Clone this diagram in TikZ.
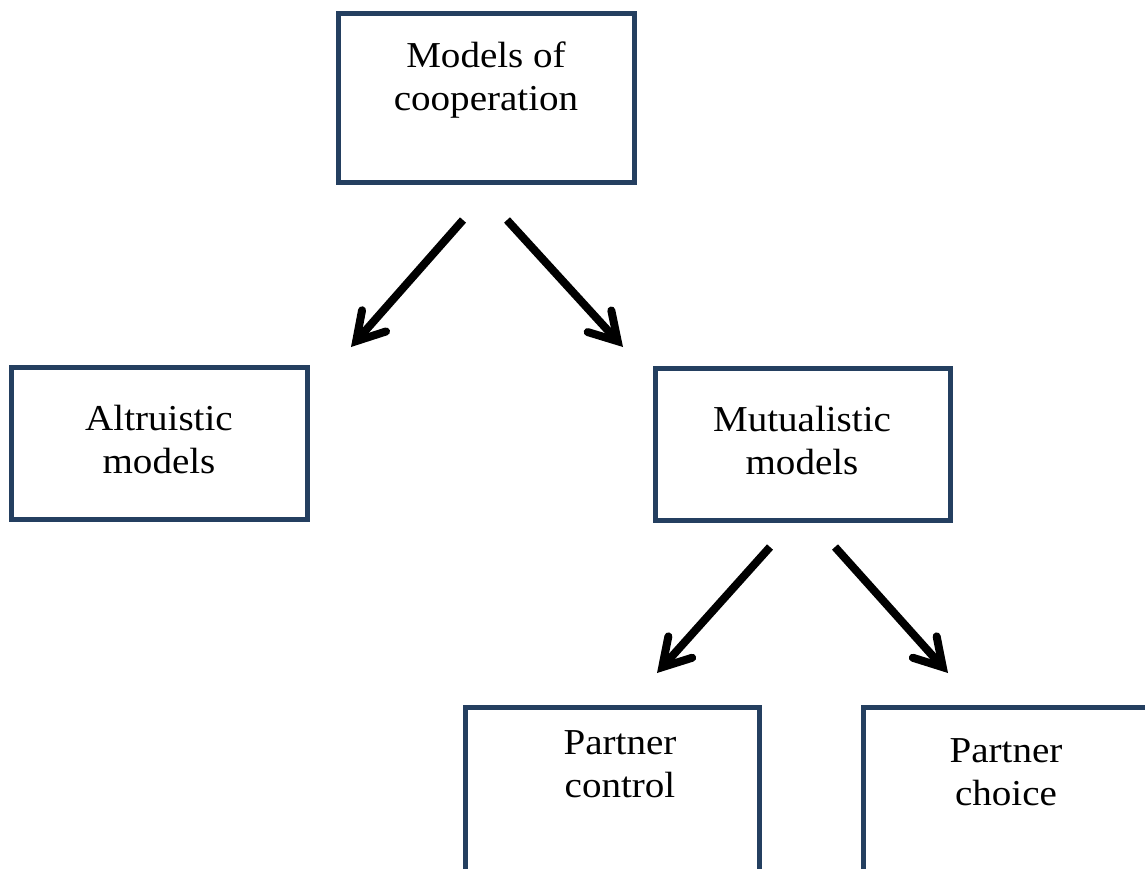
\documentclass[tikz,border=0pt]{standalone}
\usepackage{fontspec}
\setmainfont{Liberation Serif}[FakeStretch=1.07]
\usetikzlibrary{arrows.meta}
\definecolor{boxblue}{HTML}{243F60}
\begin{document}
\begin{tikzpicture}[x=1pt,y=-1pt,
  box/.style={draw=boxblue, line width=5pt, rectangle, inner sep=0pt, outer sep=0pt, anchor=north west},
  lbl/.style={font=\fontsize{36.5}{43}\selectfont, align=center, anchor=base, inner sep=0pt},
  arr/.style={line width=8pt, -{Straight Barb[length=27pt,width=32pt,line cap=round,line join=miter]}}]
\useasboundingbox (0,0) rectangle (1145,868);
\clip (0,0) rectangle (1145,868);
\fill[white] (0,0) rectangle (1145,868);
% boxes
\node[box, minimum width=296pt, minimum height=169pt] (top) at (338.5,13.5) {};
\node[box, minimum width=295.5pt, minimum height=152pt] (alt) at (11.5,367.5) {};
\node[box, minimum width=294.5pt, minimum height=151.5pt] (mut) at (655.5,368.5) {};
\node[box, minimum width=294pt, minimum height=175pt] (pctl) at (465.5,707.5) {};
\node[box, minimum width=285.5pt, minimum height=175pt] (pchc) at (863.5,707.5) {};
% labels (anchored at the baseline of the last line)
\node[lbl] (topT) at (486,110) {Models of\\cooperation};
\node[lbl] (altT) at (159,473) {Altruistic\\models};
\node[lbl] (mutT) at (802,474) {Mutualistic\\models};
\node[lbl] (pctlT) at (620,797) {Partner\\control};
\node[lbl] (pchcT) at (1006,805) {Partner\\choice};
% arrow ends
\coordinate (a1s) at (463,220);
\coordinate (a1e) at (351,347);
\coordinate (a2s) at (507,220);
\coordinate (a2e) at (623,347);
\coordinate (a3s) at (770,547);
\coordinate (a3e) at (657,673);
\coordinate (a4s) at (835,547);
\coordinate (a4e) at (948,673);
\draw[arr] (a1s) -- (a1e);
\draw[arr] (a2s) -- (a2e);
\draw[arr] (a3s) -- (a3e);
\draw[arr] (a4s) -- (a4e);
\end{tikzpicture}
\end{document}
